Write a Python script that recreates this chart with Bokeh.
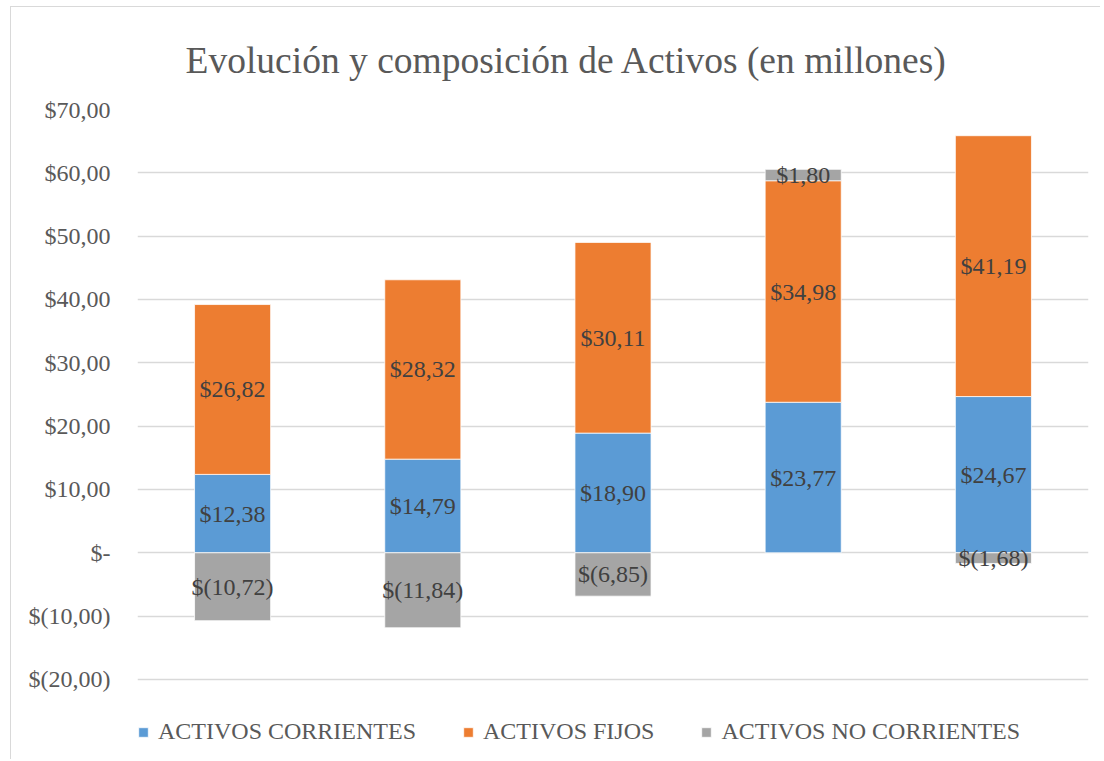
import numpy as np
from bokeh.plotting import figure
from bokeh.models import ColumnDataSource, FactorRange, FixedTicker, Legend, LegendItem
from bokeh.core.properties import value
from bokeh.embed import file_html
from bokeh.resources import INLINE

categories = ["1", "2", "3", "4", "5"]
series_names = ["ACTIVOS CORRIENTES", "ACTIVOS FIJOS", "ACTIVOS NO CORRIENTES"]
corrientes = [12.38, 14.79, 18.90, 23.77, 24.67]
fijos = [26.82, 28.32, 30.11, 34.98, 41.19]
no_corrientes = [-10.72, -11.84, -6.85, 1.80, -1.68]
y_ticks = [-20, -10, 0, 10, 20, 30, 40, 50, 60, 70]
y_tick_labels = ["$(20,00)", "$(10,00)", "$-", "$10,00", "$20,00", "$30,00",
                 "$40,00", "$50,00", "$60,00", "$70,00"]
title_text = "Evolución y composición de Activos (en millones)"
colors = ["#5B9BD5", "#ED7D31", "#A5A5A5"]

FONT = "Liberation Serif"

def fmt(v):
    s = f"{abs(v):.2f}".replace(".", ",")
    return f"$({s})" if v < 0 else f"${s}"

c = np.array(corrientes)
f = np.array(fijos)
n = np.array(no_corrientes)

b1, t1 = np.zeros_like(c), c
b2, t2 = c, c + f
b3 = np.where(n >= 0, c + f, n)
t3 = np.where(n >= 0, c + f + n, 0.0)

# frame extends below the last gridline to host the legend
p = figure(x_range=FactorRange(*categories), y_range=(-32.8, 70),
           width=1090, height=753, output_backend="svg", toolbar_location=None,
           min_border_left=126, min_border_right=13, min_border_top=102, min_border_bottom=0)
p.margin = (6, 0, 0, 10)
p.styles = {"border-top": "1px solid #d9d9d9", "border-left": "1px solid #d9d9d9"}

renderers = []
for (bot, top, vals, col) in [(b1, t1, c, colors[0]), (b2, t2, f, colors[1]), (b3, t3, n, colors[2])]:
    src = ColumnDataSource(dict(x=categories, bottom=bot, top=top,
                                mid=(bot + top) / 2, lab=[fmt(v) for v in vals]))
    r = p.vbar(x="x", bottom="bottom", top="top", width=0.4, source=src,
               fill_color=col, line_color="white", line_width=0.75)
    renderers.append(r)
    p.text(x="x", y="mid", text="lab", source=src, text_align="center",
           text_baseline="middle", text_font=value(FONT), text_font_size="24px",
           text_color="#404040")

p.title.text = title_text
p.title.text_font = FONT
p.title.text_font_size = "37.5px"
p.title.text_font_style = "normal"
p.title.text_color = "#595959"
p.title.align = "left"
p.title.offset = 48
p.title.standoff = 57

p.xaxis.visible = False
p.xgrid.grid_line_color = None
p.ygrid.grid_line_color = "#d9d9d9"
p.ygrid.grid_line_width = 1.3

p.yaxis.ticker = FixedTicker(ticks=y_ticks)
p.yaxis.major_label_overrides = {t: l for t, l in zip(y_ticks, y_tick_labels)}
p.yaxis.axis_line_color = None
p.yaxis.major_tick_line_color = None
p.yaxis.minor_tick_line_color = None
p.yaxis.major_tick_out = 0
p.yaxis.major_tick_in = 0
p.yaxis.major_label_text_font = FONT
p.yaxis.major_label_text_font_size = "24px"
p.yaxis.major_label_text_color = "#595959"
p.yaxis.major_label_standoff = 27

p.outline_line_color = None

legend = Legend(items=[LegendItem(label=nm, renderers=[r]) for nm, r in zip(series_names, renderers)],
                orientation="horizontal", location=(0, 15))
legend.label_text_font = FONT
legend.label_text_font_size = "24px"
legend.label_text_color = "#595959"
legend.glyph_width = 12
legend.glyph_height = 12
legend.label_standoff = 9
legend.spacing = 46
legend.padding = 0
legend.margin = 0
legend.border_line_color = None
legend.background_fill_alpha = 0
p.add_layout(legend)

open("out.html", "w").write(file_html(p, INLINE))
